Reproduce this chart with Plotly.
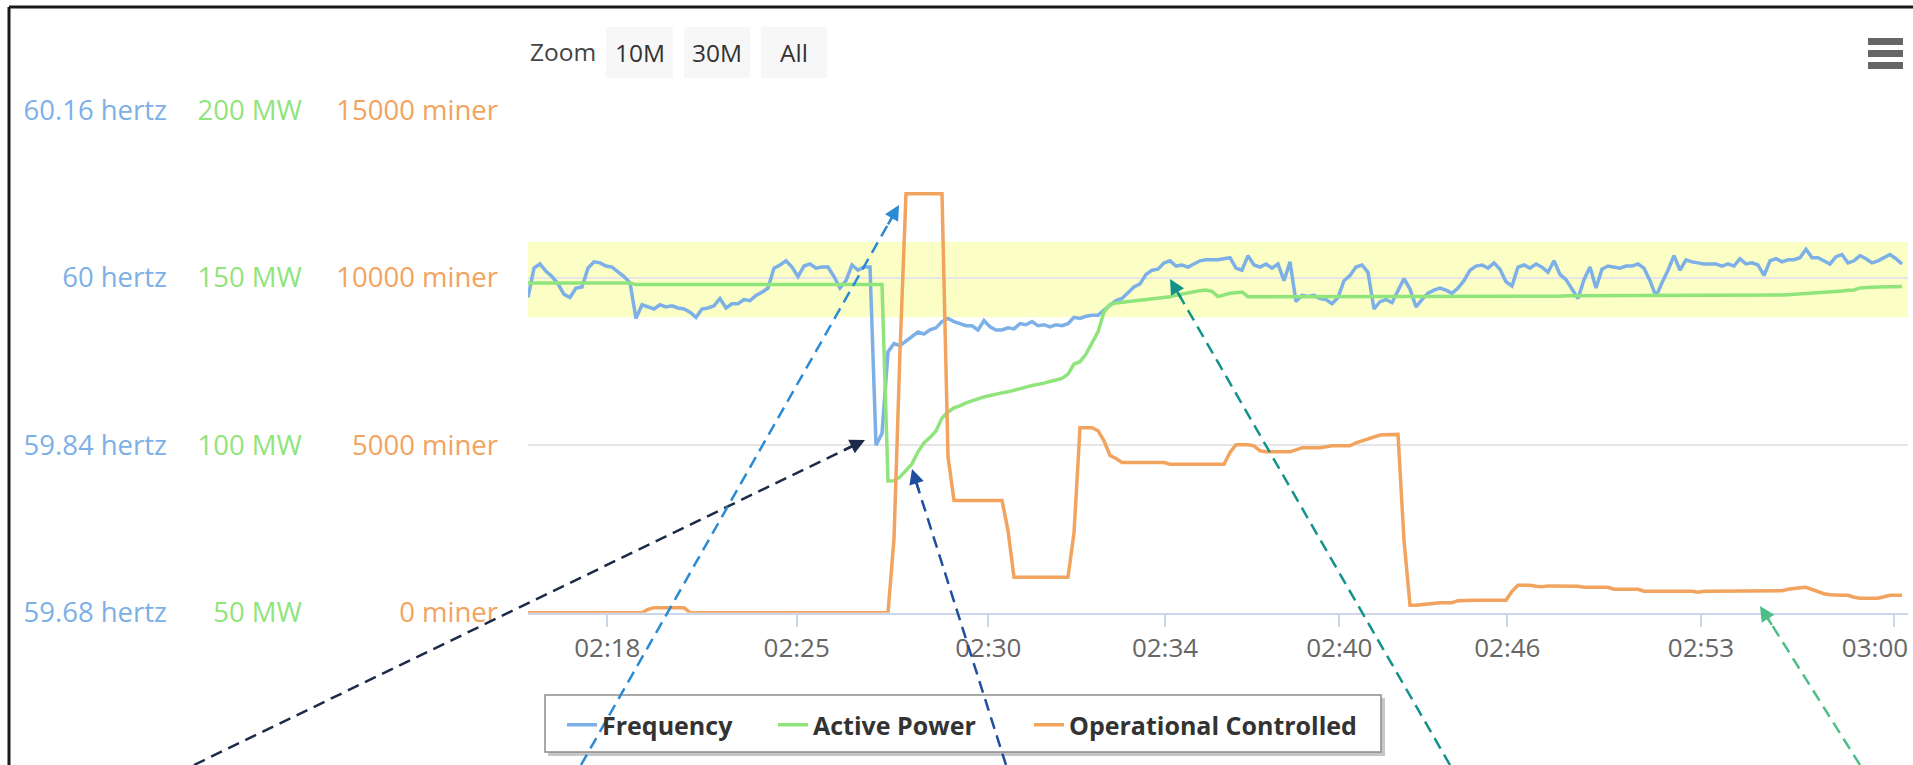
import math
import plotly.graph_objects as go

W, H = 1913, 765

# ---------------- data (ordinal samples) ----------------
freq_hz = [
    59.981, 60.009, 60.013, 60.006, 60.001, 59.994, 59.984, 59.981, 59.990, 59.991,
    60.009, 60.015, 60.014, 60.011, 60.010, 60.006, 60.001, 59.995, 59.961, 59.974,
    59.972, 59.970, 59.974, 59.972, 59.973, 59.971, 59.970, 59.967, 59.962, 59.970,
    59.971, 59.973, 59.980, 59.971, 59.975, 59.975, 59.979, 59.978, 59.983, 59.986,
    59.990, 60.009, 60.012, 60.016, 60.010, 60.001, 60.011, 60.013, 60.009, 60.010,
    60.010, 60.001, 59.990, 59.997, 60.012, 60.007, 60.010, 60.010, 59.840, 59.851,
    59.929, 59.937, 59.935, 59.939, 59.943, 59.948, 59.946, 59.950, 59.952, 59.958,
    59.961, 59.958, 59.956, 59.954, 59.954, 59.950, 59.959, 59.953, 59.950, 59.950,
    59.952, 59.951, 59.956, 59.955, 59.958, 59.954, 59.955, 59.953, 59.955, 59.954,
    59.956, 59.962, 59.961, 59.963, 59.964, 59.964, 59.969, 59.974, 59.978, 59.980,
    59.986, 59.991, 59.994, 60.003, 60.007, 60.008, 60.014, 60.016, 60.011, 60.012,
    60.010, 60.013, 60.016, 60.017, 60.017, 60.017, 60.018, 60.019, 60.009, 60.007,
    60.021, 60.012, 60.010, 60.013, 60.009, 60.013, 59.997, 60.015, 59.977, 59.983,
    59.982, 59.983, 59.980, 59.979, 59.975, 59.981, 59.997, 60.002, 60.010, 60.012,
    60.005, 59.970, 59.977, 59.979, 59.976, 59.987, 59.999, 59.989, 59.972, 59.979,
    59.985, 59.988, 59.990, 59.988, 59.985, 59.990, 59.997, 60.007, 60.011, 60.012,
    60.009, 60.014, 60.008, 59.996, 59.992, 60.010, 60.012, 60.009, 60.013, 60.010,
    60.005, 60.016, 60.003, 59.998, 59.989, 59.980, 59.998, 60.010, 59.990, 60.008,
    60.011, 60.010, 60.009, 60.011, 60.011, 60.013, 60.009, 59.997, 59.982, 59.995,
    60.007, 60.021, 60.007, 60.017, 60.015, 60.014, 60.013, 60.013, 60.013, 60.011,
    60.013, 60.011, 60.018, 60.013, 60.014, 60.012, 60.002, 60.016, 60.018, 60.015,
    60.017, 60.017, 60.019, 60.027, 60.019, 60.019, 60.016, 60.013, 60.020, 60.022,
    60.014, 60.016, 60.021, 60.018, 60.014, 60.016, 60.019, 60.022, 60.018, 60.013,
]

active_power_mw = [
    148.4, 148.4, 148.4, 148.4, 148.4, 148.4, 148.4, 148.4, 148.4, 148.4,
    148.4, 148.4, 148.4, 148.4, 148.4, 148.4, 148.4, 148.4, 147.9, 147.9,
    147.9, 147.9, 147.9, 147.9, 147.9, 147.9, 147.9, 147.9, 147.9, 147.9,
    147.9, 147.9, 147.9, 147.9, 147.9, 147.9, 147.9, 147.9, 147.9, 147.9,
    147.9, 147.9, 147.9, 147.9, 147.9, 147.9, 147.9, 147.9, 147.9, 147.9,
    147.9, 147.9, 147.9, 147.9, 147.9, 147.9, 147.9, 147.9, 147.9, 147.9,
    89.3, 89.4, 90.5, 92.3, 94.4, 98.0, 100.7, 102.3, 104.2, 108.1,
    109.9, 111.1, 111.7, 112.6, 113.2, 113.9, 114.4, 114.8, 115.3, 115.6,
    115.9, 116.3, 116.9, 117.3, 117.8, 118.1, 118.5, 119.0, 119.4, 119.9,
    121.2, 124.2, 124.9, 127.2, 130.5, 133.8, 139.7, 142.0, 142.4, 142.6,
    142.8, 143.0, 143.2, 143.4, 143.5, 143.7, 144.0, 144.3, 144.7, 145.1,
    145.5, 145.8, 146.1, 146.3, 145.9, 144.3, 144.8, 145.3, 145.5, 145.7,
    144.3, 144.3, 144.3, 144.3, 144.3, 144.3, 144.3, 144.3, 144.3, 144.3,
    144.3, 144.3, 144.3, 144.3, 144.3, 144.3, 144.3, 144.3, 144.3, 144.3,
    144.3, 144.4, 144.4, 144.4, 144.4, 144.4, 144.4, 144.4, 144.4, 144.4,
    144.4, 144.4, 144.4, 144.4, 144.4, 144.4, 144.4, 144.4, 144.4, 144.4,
    144.4, 144.4, 144.4, 144.4, 144.4, 144.4, 144.4, 144.4, 144.4, 144.4,
    144.4, 144.4, 144.4, 144.6, 144.6, 144.6, 144.6, 144.6, 144.6, 144.6,
    144.6, 144.6, 144.6, 144.6, 144.6, 144.6, 144.6, 144.6, 144.6, 144.6,
    144.6, 144.6, 144.6, 144.6, 144.6, 144.6, 144.6, 144.6, 144.6, 144.6,
    144.6, 144.6, 144.6, 144.6, 144.6, 144.6, 144.6, 144.6, 144.6, 144.8,
    144.9, 145.0, 145.1, 145.2, 145.3, 145.4, 145.6, 145.8, 145.9, 146.0,
    146.2, 146.3, 146.9, 147.1, 147.1, 147.2, 147.2, 147.2, 147.3, 147.3,
]

operational_miners = [
    0, 0, 0, 0, 0, 0, 0, 0, 0, 0,
    0, 0, 0, 0, 0, 0, 0, 0, 0, 0,
    100, 150, 150, 150, 150, 150, 150, 0, 0, 0,
    0, 0, 0, 0, 0, 0, 0, 0, 0, 0,
    0, 0, 0, 0, 0, 0, 0, 0, 0, 0,
    0, 0, 0, 0, 0, 0, 0, 0, 0, 0,
    0, 2200, 7800, 12500, 12500, 12500, 12500, 12500, 12500, 12500,
    4650, 3350, 3350, 3350, 3350, 3350, 3350, 3350, 3350, 3350,
    2450, 1060, 1060, 1060, 1060, 1060, 1060, 1060, 1060, 1060,
    1060, 2380, 5520, 5520, 5520, 5430, 5130, 4690, 4600, 4480,
    4480, 4480, 4480, 4480, 4480, 4480, 4480, 4430, 4430, 4430,
    4430, 4430, 4430, 4430, 4430, 4430, 4430, 4780, 5010, 5010,
    5010, 4980, 4830, 4800, 4800, 4800, 4800, 4800, 4860, 4920,
    4920, 4920, 4920, 4950, 4980, 4980, 4980, 4980, 5070, 5130,
    5190, 5250, 5300, 5310, 5320, 5320, 2160, 220, 220, 240,
    270, 300, 300, 300, 300, 360, 370, 370, 370, 370,
    370, 370, 370, 370, 640, 820, 820, 820, 790, 775,
    800, 800, 800, 800, 800, 790, 760, 760, 760, 760,
    760, 700, 700, 700, 700, 700, 640, 640, 640, 640,
    640, 640, 640, 640, 640, 610, 640, 640, 640, 640,
    640, 640, 640, 640, 640, 640, 640, 640, 640, 655,
    700, 730, 745, 760, 700, 625, 565, 535, 520, 520,
    520, 460, 430, 430, 430, 430, 475, 520, 520, 520,
]

# ordinal time axis: tick marks, and label positions (last label kept inside the plot)
time_tick_pos = [13.22, 44.78, 76.72, 106.17, 135.22, 163.22, 195.5, 227.72]
time_label_pos = [13.22, 44.78, 76.72, 106.17, 135.22, 163.22, 195.5, 224.5]
time_tick_labels = ["02:18", "02:25", "02:30", "02:34", "02:40", "02:46", "02:53", "03:00"]

hz_tick_vals = [59.68, 59.84, 60.0, 60.16]
hz_tick_text = ["59.68 hertz", "59.84 hertz", "60 hertz", "60.16 hertz"]
mw_tick_vals = [50, 100, 150, 200]
mw_tick_text = ["50 MW", "100 MW", "150 MW", "200 MW"]
miner_tick_vals = [0, 5000, 10000, 15000]
miner_tick_text = ["0 miner", "5000 miner", "10000 miner", "15000 miner"]

freq_band_hz = [59.962, 60.034]
zoom_buttons = ["10M", "30M", "All"]

# ---------------- styling ----------------
FONT = "Open Sans"
C_FREQ = "#7cb0e6"
C_POWER = "#90e47c"
C_MINER = "#f2a35e"


def X(px):
    return px / W


def Y(py):
    return 1 - py / H


PLOT_L, PLOT_R, PLOT_T, PLOT_B = 528, 1908, 110, 612.7

fig = go.Figure()
fig.add_trace(go.Scatter(
    x=list(range(len(freq_hz))), y=freq_hz, name="Frequency", mode="lines",
    line=dict(color=C_FREQ, width=3.5), xaxis="x", yaxis="y", legend="legend", hoverinfo="skip"))
fig.add_trace(go.Scatter(
    x=list(range(len(active_power_mw))), y=active_power_mw, name="Active Power", mode="lines",
    line=dict(color=C_POWER, width=3.5), xaxis="x", yaxis="y2", legend="legend2", hoverinfo="skip"))
fig.add_trace(go.Scatter(
    x=list(range(len(operational_miners))), y=operational_miners, name="Operational Controlled",
    mode="lines", line=dict(color=C_MINER, width=3.5), xaxis="x2", yaxis="y3", legend="legend3",
    hoverinfo="skip"))

n_pts = len(freq_hz)

shapes = []
# plot band on the frequency axis
shapes.append(dict(type="rect", xref="x", yref="y", x0=0, x1=n_pts, y0=freq_band_hz[0],
                   y1=freq_band_hz[1], fillcolor="#FCFFC5", line=dict(width=0), layer="below"))


def prect(x0, y0, x1, y1, **kw):
    return dict(type="rect", xref="paper", yref="paper", x0=X(x0), x1=X(x1), y0=Y(y1), y1=Y(y0), **kw)


# screenshot frame
shapes.append(dict(type="line", xref="paper", yref="paper", x0=X(9), x1=X(9), y0=Y(7), y1=Y(765),
                   line=dict(color="#1a1a1a", width=3)))
shapes.append(dict(type="line", xref="paper", yref="paper", x0=X(9), x1=X(1913), y0=Y(7), y1=Y(7),
                   line=dict(color="#1a1a1a", width=3)))

# range selector button backgrounds
btn_boxes = [(606, 673), (684, 750), (761, 827)]
for (bx0, bx1) in btn_boxes:
    shapes.append(prect(bx0, 27, bx1, 78, fillcolor="#f7f7f7", line=dict(width=0)))

# context menu icon
for by in (38, 50, 62):
    shapes.append(prect(1868, by, 1903, by + 7, fillcolor="#666666", line=dict(width=0)))

# legend frame with shadow
shapes.append(prect(548, 698, 1385, 756, fillcolor="rgba(0,0,0,0.22)", line=dict(width=0)))
shapes.append(prect(545, 695, 1381, 752, fillcolor="white", line=dict(color="#8c8c8c", width=1.5)))

# dashed call-out arrows (start -> tip, pixel positions on the page)
arrows = [
    ((194, 765), (865, 440), "#1c2b49"),
    ((581, 765), (899, 205), "#2a8ad4"),
    ((1006, 765), (912, 469), "#1f4e9e"),
    ((1450, 765), (1170, 279), "#13918a"),
    ((1860, 765), (1760, 606), "#4cbf87"),
]
annotations = []
for (sx, sy), (tx, ty), col in arrows:
    dx, dy = sx - tx, sy - ty
    L = math.hypot(dx, dy)
    ux, uy = dx / L, dy / L
    ex, ey = tx + ux * 10, ty + uy * 10
    shapes.append(dict(type="line", xref="paper", yref="paper", x0=X(sx), y0=Y(sy), x1=X(ex), y1=Y(ey),
                       line=dict(color=col, width=2.5, dash="12px,7px")))
    annotations.append(dict(xref="paper", yref="paper", x=X(tx), y=Y(ty), ax=ux * 24, ay=uy * 24,
                            axref="pixel", ayref="pixel", text="", showarrow=True, arrowhead=2,
                            arrowsize=1.2, arrowwidth=2.5, arrowcolor=col))

annotations.append(dict(xref="paper", yref="paper", x=X(528), y=Y(52), xanchor="left", yanchor="middle",
                        text="Zoom", showarrow=False, font=dict(family=FONT, size=24.5, color="#444444")))
for label, (bx0, bx1) in zip(zoom_buttons, btn_boxes):
    annotations.append(dict(xref="paper", yref="paper", x=X((bx0 + bx1) / 2), y=Y(52.5),
                            xanchor="center", yanchor="middle", text=label, showarrow=False,
                            font=dict(family=FONT, size=24.5, color="#333333")))

leg_common = dict(orientation="h", yanchor="middle", y=Y(725), xanchor="left",
                  bgcolor="rgba(0,0,0,0)", borderwidth=0,
                  font=dict(family=FONT, size=25, color="#333333", weight="bold"))

axis_font = dict(family=FONT, size=27.5)
GAP = 3

fig.update_layout(
    template="none",
    width=W, height=H,
    margin=dict(l=0, r=0, t=0, b=0),
    paper_bgcolor="white", plot_bgcolor="white",
    font=dict(family=FONT),
    showlegend=True,
    legend=dict(x=X(562), **leg_common),
    legend2=dict(x=X(773), **leg_common),
    legend3=dict(x=X(1029), **leg_common),
    # tick marks + axis line
    xaxis=dict(domain=[X(PLOT_L), X(PLOT_R)], range=[0, n_pts], anchor="y",
               tickmode="array", tickvals=time_tick_pos, ticktext=[""] * len(time_tick_pos),
               ticks="outside", ticklen=12, tickwidth=1.5, tickcolor="#ccd6eb",
               showline=True, linecolor="#ccd6eb", linewidth=2,
               showgrid=False, zeroline=False, automargin=False,
               tickfont=dict(family=FONT, size=26, color="#666666")),
    # time labels (same scale, labels kept inside the chart like the original)
    xaxis2=dict(overlaying="x", matches="x", anchor="y", side="bottom",
                tickmode="array", tickvals=time_label_pos, ticktext=time_tick_labels,
                ticks="outside", ticklen=12, tickcolor="rgba(0,0,0,0)",
                showline=False, showgrid=False, zeroline=False, automargin=False,
                tickfont=dict(family=FONT, size=26, color="#666666")),
    yaxis=dict(domain=[Y(PLOT_B), Y(PLOT_T)], range=[59.68, 60.16], anchor="free",
               position=X(164 + GAP), side="left",
               tickmode="array", tickvals=hz_tick_vals, ticktext=hz_tick_text, ticks="",
               showgrid=True, gridcolor="#e6e6e6", gridwidth=2, zeroline=False, showline=False,
               automargin=False, tickfont=dict(color=C_FREQ, **axis_font)),
    yaxis2=dict(overlaying="y", range=[50, 200], anchor="free", position=X(299 + GAP), side="left",
                tickmode="array", tickvals=mw_tick_vals, ticktext=mw_tick_text, ticks="",
                showgrid=False, zeroline=False, showline=False, automargin=False,
                tickfont=dict(color=C_POWER, **axis_font)),
    yaxis3=dict(overlaying="y", range=[0, 15000], anchor="free", position=X(495 + GAP), side="left",
                tickmode="array", tickvals=miner_tick_vals, ticktext=miner_tick_text, ticks="",
                showgrid=False, zeroline=False, showline=False, automargin=False,
                tickfont=dict(color=C_MINER, **axis_font)),
    shapes=shapes,
    annotations=annotations,
)

fig.write_html("out.html", config={"displayModeBar": False},
               post_script="document.body.style.margin='0';document.body.style.overflow='hidden';")
